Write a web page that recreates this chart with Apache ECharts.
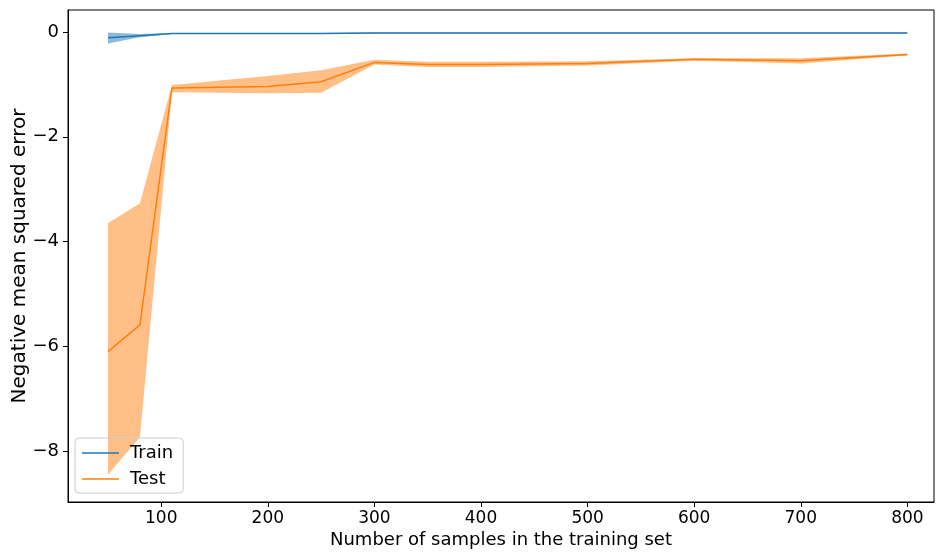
<!DOCTYPE html>
<html><head><meta charset="utf-8">
<script src="https://cdn.jsdelivr.net/npm/echarts@6/dist/echarts.min.js"></script>
<style>html,body{margin:0;padding:0;background:#fff}#c{width:937px;height:554px}</style>
</head><body><div id="c"></div>
<script>
const sizes = [50, 80, 110, 200, 250, 300, 350, 400, 500, 600, 700, 800];
const trainMean = [-0.11, -0.07, -0.03, -0.03, -0.03, -0.02, -0.02, -0.02, -0.02, -0.02, -0.02, -0.02];
const trainLow  = [-0.22, -0.10, -0.04, -0.04, -0.04, -0.03, -0.03, -0.03, -0.03, -0.03, -0.03, -0.03];
const trainHigh = [-0.01, -0.04, -0.02, -0.02, -0.02, -0.01, -0.01, -0.01, -0.01, -0.01, -0.01, -0.01];
const testMean = [-6.10, -5.59, -1.07, -1.04, -0.95, -0.58, -0.62, -0.62, -0.60, -0.52, -0.55, -0.43];
const testLow  = [-8.45, -7.73, -1.15, -1.17, -1.16, -0.62, -0.67, -0.67, -0.64, -0.55, -0.60, -0.45];
const testHigh = [-3.65, -3.27, -1.01, -0.84, -0.73, -0.53, -0.57, -0.57, -0.56, -0.50, -0.50, -0.41];
const xTicks = [100, 200, 300, 400, 500, 600, 700, 800];
const yTicks = [0, -2, -4, -6, -8];

const pairs = (ys) => sizes.map((x, i) => [x, ys[i]]);
const bandData = (lo, hi) => sizes.map((x, i) => [x, lo[i], hi[i]]);
function bandSeries(name, lo, hi, color) {
  const data = bandData(lo, hi);
  return {
    name, type: 'custom', silent: true, data, z: 1,
    encode: { x: 0, y: [1, 2] },
    renderItem: (params, api) => {
      if (params.dataIndex !== 0) return null;
      const top = data.map(d => api.coord([d[0], d[2]]));
      const bot = data.map(d => api.coord([d[0], d[1]])).reverse();
      return {
        type: 'polygon', shape: { points: top.concat(bot) },
        style: { fill: color, opacity: 0.5, stroke: null }
      };
    }
  };
}
const font = 'DejaVu Sans';
const chart = echarts.init(document.getElementById('c'));
chart.setOption({
  animation: false,
  grid: { left: 68, right: 3, top: 10, bottom: 52, containLabel: false, outerBoundsMode: 'none',
          show: true, borderColor: '#000', borderWidth: 1 },
  legend: {
    data: ['Train', 'Test'], orient: 'vertical', left: 75, bottom: 61,
    borderColor: '#ccc', borderWidth: 1, borderRadius: 4, padding: [6, 10, 5, 7],
    itemWidth: 37, itemHeight: 10, itemGap: 8, icon: 'path://M0,0 L37,0 L37,1.5 L0,1.5 Z',
    textStyle: { fontFamily: font, fontSize: 18, color: '#000', padding: [0, 0, 0, 6] }
  },
  xAxis: {
    type: 'value', min: 12.5, max: 825,
    name: 'Number of samples in the training set', nameLocation: 'middle', nameGap: 29,
    nameMoveOverlap: false,
    nameTextStyle: { fontFamily: font, fontSize: 18, color: '#000' },
    axisLine: { show: true, onZero: false, lineStyle: { color: '#000' } },
    axisTick: { show: true, customValues: xTicks, length: 5, lineStyle: { color: '#000' } },
    axisLabel: { customValues: xTicks, fontFamily: font, fontSize: 17, color: '#000', margin: 8 },
    splitLine: { show: false }
  },
  yAxis: {
    type: 'value', min: -8.97, max: 0.42,
    name: 'Negative mean squared error', nameLocation: 'middle', nameGap: 38,
    nameMoveOverlap: false,
    nameTextStyle: { fontFamily: font, fontSize: 20, color: '#000' },
    axisLine: { show: true, onZero: false, lineStyle: { color: '#000' } },
    axisTick: { show: true, customValues: yTicks, length: 5, lineStyle: { color: '#000' } },
    axisLabel: { customValues: yTicks, fontFamily: font, fontSize: 18, color: '#000', margin: 9,
      formatter: v => String(v).replace('-', '\u2212') },
    splitLine: { show: false }
  },
  series: [
    bandSeries('trainBand', trainLow, trainHigh, '#1f77b4'),
    bandSeries('testBand', testLow, testHigh, '#ff7f0e'),
    { name: 'Train', type: 'line', z: 3, data: pairs(trainMean), symbol: 'none', color: '#1f77b4', lineStyle: { width: 1.5, color: '#1f77b4' } },
    { name: 'Test', type: 'line', z: 3, data: pairs(testMean), symbol: 'none', color: '#ff7f0e', lineStyle: { width: 1.5, color: '#ff7f0e' } }
  ]
});
</script></body></html>
